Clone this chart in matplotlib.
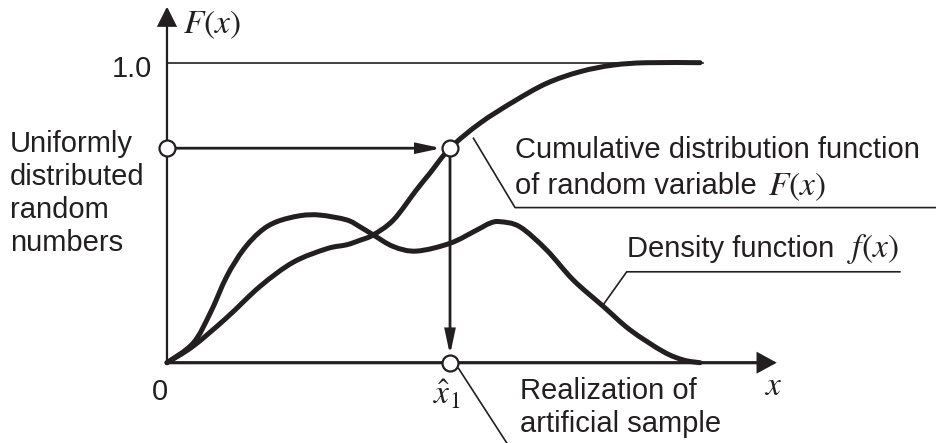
import numpy as np
import matplotlib
matplotlib.use("Agg")
import matplotlib.pyplot as plt
from matplotlib.path import Path
from matplotlib.patches import PathPatch, FancyArrowPatch

plt.rcParams['font.family'] = ['Liberation Sans', 'DejaVu Sans']
plt.rcParams['mathtext.fontset'] = 'stix'

# values (x scaled so that curves end at 1.0)
cdf_x = [0, 0.049, 0.112, 0.175, 0.237, 0.300, 0.337, 0.362, 0.387, 0.425,
         0.468, 0.493, 0.531, 0.587, 0.650, 0.712, 0.775, 0.837, 0.900, 1.0]
cdf_y = [0, 0.055, 0.150, 0.255, 0.335, 0.380, 0.393, 0.408, 0.426, 0.476,
         0.576, 0.631, 0.715, 0.798, 0.870, 0.931, 0.970, 0.992, 1.0, 1.0]

pdf_x = [0, 0.049, 0.081, 0.112, 0.143, 0.175, 0.206, 0.250, 0.287, 0.337,
         0.362, 0.387, 0.425, 0.468, 0.531, 0.581, 0.606, 0.625, 0.662,
         0.712, 0.762, 0.819, 0.869, 0.931, 0.969, 1.0]
pdf_y = [0, 0.065, 0.165, 0.287, 0.376, 0.437, 0.470, 0.490, 0.492, 0.476,
         0.453, 0.426, 0.387, 0.372, 0.398, 0.442, 0.465, 0.470, 0.453,
         0.376, 0.276, 0.187, 0.109, 0.037, 0.009, 0.0]

u_value = 0.715   # uniform random number
x_hat = 0.531     # realization

left_label = "Uniformly\ndistributed\nrandom\nnumbers"
cdf_lines = ["Cumulative distribution function", "of random variable"]
pdf_text = "Density function"
sample_label = "Realization of\nartificial sample"

ink = '#231f20'


def smooth_path(xs, ys):
    # Catmull-Rom through the read points, drawn as cubic Bezier pieces
    pts = np.column_stack([xs, ys])
    n = len(pts)
    verts = [pts[0]]
    codes = [Path.MOVETO]
    for i in range(n - 1):
        p0 = pts[max(i - 1, 0)]
        p1 = pts[i]
        p2 = pts[i + 1]
        p3 = pts[min(i + 2, n - 1)]
        verts += [p1 + (p2 - p0) / 6, p2 - (p3 - p1) / 6, p2]
        codes += [Path.CURVE4] * 3
    return Path(verts, codes)


def arrow(ax, start, end, lw, hl, hw):
    a = FancyArrowPatch(start, end, arrowstyle=f'-|>,head_length={hl},head_width={hw}',
                        mutation_scale=1, lw=lw, color=ink, shrinkA=0, shrinkB=0,
                        joinstyle='miter', zorder=3)
    ax.add_patch(a)


fig = plt.figure(figsize=(9.36, 4.43), dpi=100)
ax = fig.add_axes([0, 0, 1, 1])
ax.set_xlim(-0.3133, 1.4428)
ax.set_ylim(-0.2677, 1.209)
ax.axis('off')

# axes with arrows
arrow(ax, (0, 0), (0, 1.187), 1.6, 12, 6.0)
arrow(ax, (0, 0), (1.144, 0), 2.3, 11, 6.0)

# 1.0 level line
ax.plot([0, 1.005], [1.0, 1.0], color=ink, lw=1.2)

# curves
ax.add_patch(PathPatch(smooth_path(cdf_x, cdf_y), fill=False, lw=3.6, ec=ink,
                       capstyle='round', zorder=2))
ax.add_patch(PathPatch(smooth_path(pdf_x, pdf_y), fill=False, lw=3.6, ec=ink,
                       capstyle='round', zorder=2))

# inverse transform arrows
arrow(ax, (0, u_value), (x_hat - 0.016, u_value), 2.0, 14, 3.0)
arrow(ax, (x_hat, u_value), (x_hat, 0.026), 2.0, 14, 3.0)

ax.plot([0, x_hat, x_hat], [u_value, u_value, 0], 'o', ms=11.5, mfc='white',
        mec=ink, mew=1.6, zorder=5)

# leader lines
ax.plot([0.575, 0.653, 1.46], [0.748, 0.517, 0.517], color=ink, lw=1.2)
ax.plot([0.818, 0.8625, 1.375], [0.192, 0.303, 0.303], color=ink, lw=1.2)
ax.plot([0.547, 0.642], [-0.019, -0.28], color=ink, lw=1.2)

# texts
fs = 21
ms = 24
ax.text(0.030, 1.098, '$F(x)$', fontsize=ms, ha='left', va='baseline', color=ink)
ax.text(-0.0287, 0.952, '1.0', fontsize=fs, ha='right', va='baseline', color=ink)
# multi-line texts are anchored at the baseline of their last line
ax.text(-0.295, 0.373, left_label, fontsize=fs, ha='left', va='baseline',
        linespacing=1.22, color=ink)
ax.text(0.653, 0.681, cdf_lines[0], fontsize=fs, ha='left', va='baseline', color=ink)
ax.text(0.653, 0.562, cdf_lines[1], fontsize=fs, ha='left', va='baseline', color=ink)
ax.text(1.128, 0.559, '$F(x)$', fontsize=ms, ha='left', va='baseline', color=ink)
ax.text(0.8625, 0.352, pdf_text, fontsize=fs, ha='left', va='baseline', color=ink)
ax.text(1.275, 0.352, '$f(x)$', fontsize=ms, ha='left', va='baseline', color=ink)
ax.text(0.662, -0.231, sample_label, fontsize=fs, ha='left', va='baseline',
        linespacing=1.22, color=ink)
ax.text(-0.013, -0.124, '0', fontsize=fs, ha='center', va='baseline', color=ink)
ax.text(x_hat - 0.006, -0.141, r'$\hat{x}_1$', fontsize=ms, ha='center',
        va='baseline', color=ink)
ax.text(1.139, -0.108, '$x$', fontsize=ms, ha='center', va='baseline', color=ink)

fig.savefig('out.png', dpi=100)
